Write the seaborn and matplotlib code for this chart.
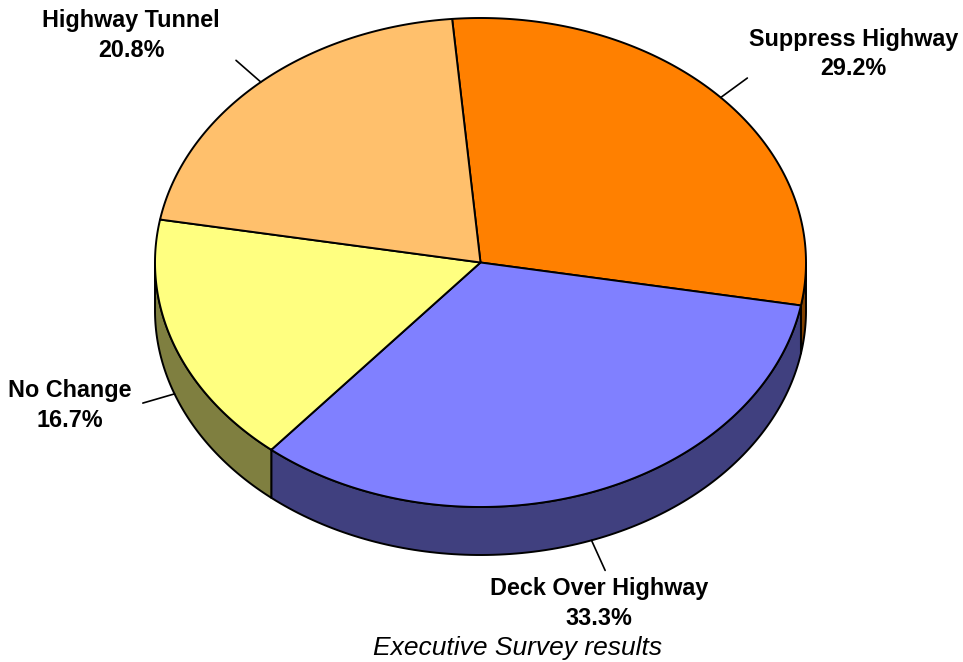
import numpy as np
import matplotlib
matplotlib.use("Agg")
import matplotlib.pyplot as plt
from matplotlib.patches import Polygon
import seaborn as sns

# ---- data ----
categories = ["Suppress Highway", "Deck Over Highway", "No Change", "Highway Tunnel"]
shares = [29.2, 33.3, 16.7, 20.8]
top_colors = ["#FF8000", "#8080FF", "#FFFF80", "#FFC06C"]
side_colors = ["#804000", "#40407F", "#7F7F40", "#806036"]
title_text = "Executive Survey results"

sns.set_style("white")
plt.rcParams["font.family"] = ["Liberation Sans", "DejaVu Sans"]

fig = plt.figure(figsize=(9.63, 6.62), dpi=100)
ax = fig.add_axes([0, 0, 1, 1])
ax.set_xlim(0, 963)
ax.set_ylim(662, 0)
ax.axis("off")

# layout of the 3-D pie (pixel units)
cx, cy, rx, ry, depth = 480.5, 262.5, 325.5, 244.5, 48
start = 95.0
lw = 1.4


def ell(t):
    r = np.radians(t)
    return cx + rx * np.cos(r), cy - ry * np.sin(r)


total = float(sum(shares))
bounds = []
a = start
for s in shares:
    a1 = a - s / total * 360.0
    bounds.append((a1, a))
    a = a1

# side walls (visible lower half)
for (lo, hi), sc in zip(bounds, side_colors):
    for k in range(-2, 2):
        vlo, vhi = -180 + 360 * k, 0 + 360 * k
        l, h = max(lo, vlo), min(hi, vhi)
        if h > l:
            ts = np.linspace(l, h, 120)
            x, y = ell(ts)
            pts = np.concatenate([np.column_stack([x, y]),
                                  np.column_stack([x[::-1], y[::-1] + depth])])
            ax.add_patch(Polygon(pts, closed=True, facecolor=sc,
                                 edgecolor="black", lw=lw, zorder=1,
                                 joinstyle="round"))

# top faces
for (lo, hi), tc in zip(bounds, top_colors):
    ts = np.linspace(hi, lo, 300)
    x, y = ell(ts)
    pts = np.vstack([[cx, cy], np.column_stack([x, y])])
    ax.add_patch(Polygon(pts, closed=True, facecolor=tc,
                         edgecolor="black", lw=lw, zorder=2, joinstyle="round"))

# leader lines and labels
label_offsets = {
    "Suppress Highway": (106, -24),
    "Deck Over Highway": (-6, 33),
    "No Change": (-73, 2),
    "Highway Tunnel": (-105, -25),
}
for cat, s, (lo, hi) in zip(categories, shares, bounds):
    m = (lo + hi) / 2.0
    r = np.radians(m)
    ax0, ay0 = ell(m)
    if np.sin(r) < 0:
        ay0 += depth
    d = np.array([np.cos(r), -0.8 * np.sin(r)])
    d = d / np.linalg.norm(d) * 33
    ex, ey = ax0 + d[0], ay0 + d[1]
    ax.plot([ax0, ex], [ay0, ey], color="black", lw=1.2, zorder=3)
    ox, oy = label_offsets[cat]
    ax.text(ex + ox, ey + oy, f"{cat}\n{s:.1f}%", ha="center", va="center",
            multialignment="center", fontsize=16.8, fontweight="bold",
            linespacing=1.38, color="black", zorder=4)

ax.text(517.5, 655, title_text, ha="center", va="baseline",
        fontsize=19, fontstyle="italic", color="black")

fig.savefig("out.png", dpi=100)
